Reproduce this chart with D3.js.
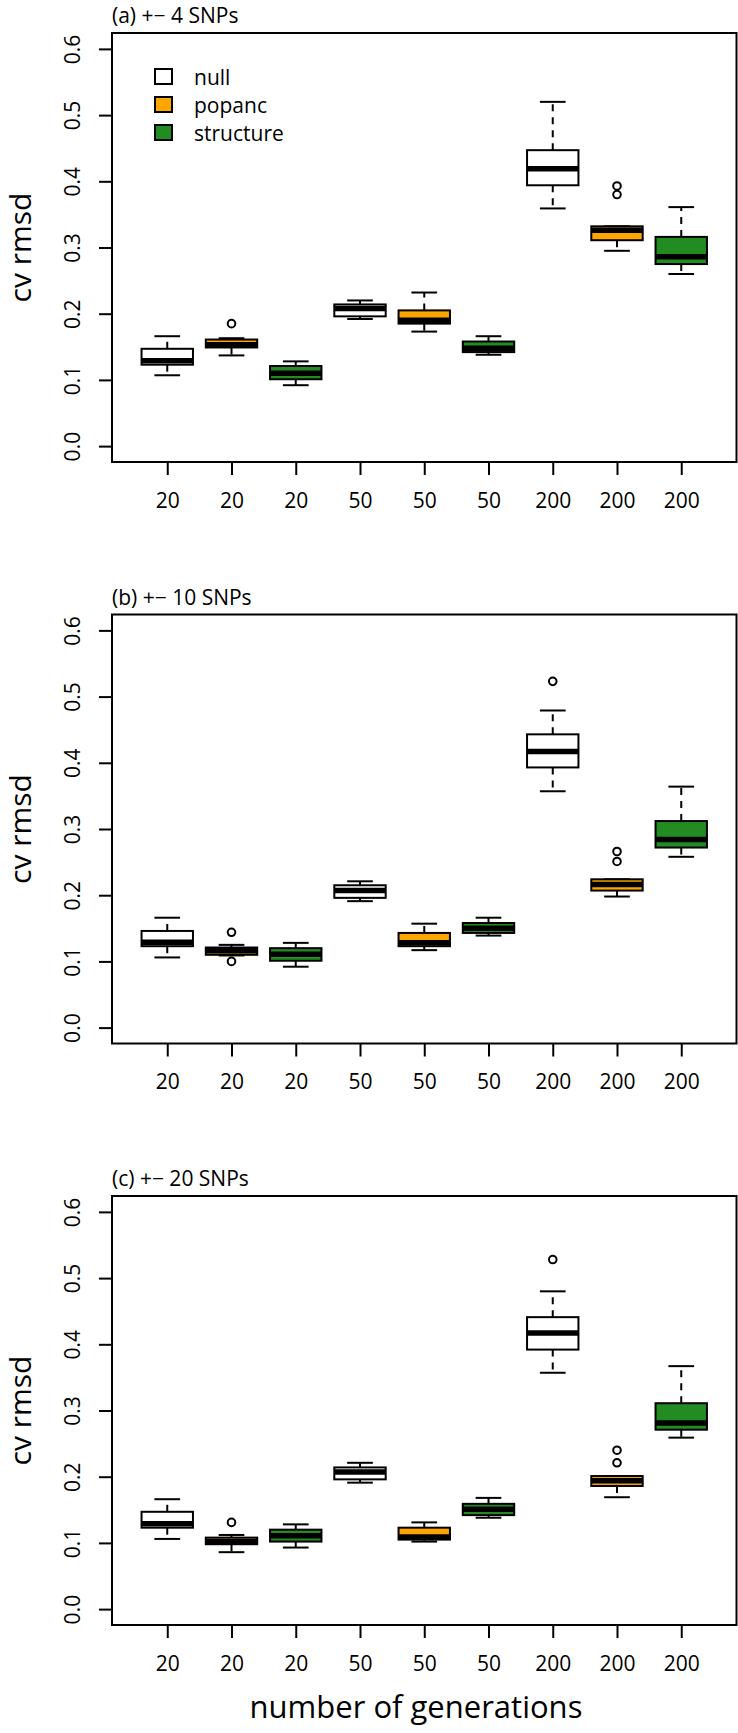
<!DOCTYPE html>
<html>
<head>
<meta charset="utf-8">
<script src="https://cdn.jsdelivr.net/npm/d3@7"></script>
<style>
  body { margin: 0; background: #fff; }
  svg text { font-family: "Open Sans", sans-serif; fill: #000; }
</style>
</head>
<body>
<div id="chart"></div>
<script>
// x categories (number of generations) and the three methods, repeated
const generations = ["20", "20", "20", "50", "50", "50", "200", "200", "200"];
const methods = ["null", "popanc", "structure", "null", "popanc", "structure", "null", "popanc", "structure"];
const legendNames = ["null", "popanc", "structure"];
const methodFill = { null: "#ffffff", popanc: "#ffa500", structure: "#228b22" };
const yTicks = [0, 0.1, 0.2, 0.3, 0.4, 0.5, 0.6];
const panelTitles = ["(a) +\u2212 4 SNPs", "(b) +\u2212 10 SNPs", "(c) +\u2212 20 SNPs"];

// (a) +- 4 SNPs
const lowA  = [0.107, 0.137, 0.092, 0.192, 0.173, 0.138, 0.359, 0.295, 0.260];
const q1A   = [0.123, 0.149, 0.101, 0.196, 0.185, 0.142, 0.394, 0.311, 0.275];
const medA  = [0.129, 0.153, 0.110, 0.208, 0.190, 0.148, 0.419, 0.326, 0.286];
const q3A   = [0.147, 0.161, 0.121, 0.214, 0.205, 0.158, 0.447, 0.332, 0.316];
const highA = [0.166, 0.163, 0.128, 0.220, 0.232, 0.166, 0.520, 0.332, 0.361];
const outA  = [[], [0.185], [], [], [], [], [], [0.380, 0.393], []];

// (b) +- 10 SNPs
const lowB  = [0.106, 0.109, 0.092, 0.191, 0.117, 0.139, 0.357, 0.198, 0.258];
const q1B   = [0.123, 0.110, 0.101, 0.196, 0.123, 0.143, 0.393, 0.207, 0.272];
const medB  = [0.129, 0.116, 0.111, 0.207, 0.128, 0.150, 0.417, 0.216, 0.284];
const q3B   = [0.146, 0.121, 0.120, 0.215, 0.143, 0.158, 0.443, 0.224, 0.312];
const highB = [0.166, 0.125, 0.128, 0.221, 0.157, 0.166, 0.479, 0.224, 0.364];
const outB  = [[], [0.100, 0.144], [], [], [], [], [0.523], [0.251, 0.266], []];

// (c) +- 20 SNPs
const lowC  = [0.106, 0.086, 0.093, 0.191, 0.102, 0.138, 0.357, 0.169, 0.259];
const q1C   = [0.123, 0.098, 0.102, 0.196, 0.105, 0.142, 0.392, 0.186, 0.271];
const medC  = [0.129, 0.102, 0.111, 0.207, 0.109, 0.151, 0.417, 0.194, 0.281];
const q3C   = [0.147, 0.108, 0.120, 0.214, 0.123, 0.159, 0.441, 0.201, 0.311];
const highC = [0.166, 0.112, 0.128, 0.221, 0.131, 0.168, 0.480, 0.201, 0.367];
const outC  = [[], [0.131], [], [], [], [], [0.528], [0.221, 0.240], []];

const panels = [
  { title: panelTitles[0], low: lowA, q1: q1A, med: medA, q3: q3A, high: highA, out: outA },
  { title: panelTitles[1], low: lowB, q1: q1B, med: medB, q3: q3B, high: highB, out: outB },
  { title: panelTitles[2], low: lowC, q1: q1C, med: medC, q3: q3C, high: highC, out: outC }
];

const W = 738, H = 1733;
const left = 112, right = 736.5, plotH = 429, firstTop = 33, step = 581.5;

const svg = d3.select("#chart").append("svg")
    .attr("width", W)
    .attr("height", H);
svg.append("rect").attr("width", W).attr("height", H).attr("fill", "#fff");

// R style: xlim c(0.5, 9.5), ylim c(0, 0.6), each padded by 4%
const x = d3.scaleLinear().domain([0.14, 9.86]).range([left, right]);
const y = d3.scaleLinear().domain([-0.024, 0.624]).range([plotH, 0]);
const unit = x(2) - x(1);
const boxW = unit * 0.8, stapleW = unit * 0.4;

panels.forEach(function (p, pi) {
  const g = svg.append("g").attr("transform", "translate(0," + (firstTop + pi * step) + ")");

  g.append("text")
      .attr("x", left)
      .attr("y", -10)
      .style("font-size", "21px")
      .text(p.title);

  // y axis
  const yAxis = g.append("g")
      .attr("transform", "translate(" + left + ",0)")
      .call(d3.axisLeft(y).tickValues(yTicks).tickFormat(d3.format(".1f")).tickSize(13));
  yAxis.select(".domain").remove();
  yAxis.selectAll("line").attr("stroke", "#000").attr("stroke-width", 2);
  yAxis.selectAll("text")
      .attr("x", null).attr("dy", null)
      .attr("transform", "translate(-32,0) rotate(-90)")
      .attr("text-anchor", "middle")
      .style("font-size", "21px")
      .style("font-family", "'Open Sans', sans-serif")
      .attr("fill", "#000");

  // x axis
  const xAxis = g.append("g")
      .attr("transform", "translate(0," + plotH + ")")
      .call(d3.axisBottom(x).tickValues(d3.range(1, 10)).tickFormat(function (d) { return generations[d - 1]; }).tickSize(13).tickPadding(18));
  xAxis.select(".domain").remove();
  xAxis.selectAll("line").attr("stroke", "#000").attr("stroke-width", 2);
  xAxis.selectAll("text")
      .style("font-size", "21px")
      .style("font-family", "'Open Sans', sans-serif")
      .attr("fill", "#000");

  g.append("text")
      .attr("transform", "translate(31," + (plotH / 2) + ") rotate(-90)")
      .attr("text-anchor", "middle")
      .style("font-size", "30px")
      .text("cv rmsd");

  // boxes
  const boxes = g.selectAll(".box")
      .data(generations.map(function (gen, i) { return i; }))
      .enter().append("g")
      .attr("class", "box");

  boxes.append("line")
      .attr("x1", function (i) { return x(i + 1); })
      .attr("x2", function (i) { return x(i + 1); })
      .attr("y1", function (i) { return y(p.q3[i]); })
      .attr("y2", function (i) { return y(p.high[i]); })
      .attr("stroke", "#000").attr("stroke-width", 2).attr("stroke-dasharray", "7,6");
  boxes.append("line")
      .attr("x1", function (i) { return x(i + 1); })
      .attr("x2", function (i) { return x(i + 1); })
      .attr("y1", function (i) { return y(p.q1[i]); })
      .attr("y2", function (i) { return y(p.low[i]); })
      .attr("stroke", "#000").attr("stroke-width", 2).attr("stroke-dasharray", "7,6");
  [p.high, p.low].forEach(function (arr) {
    boxes.append("line")
        .attr("x1", function (i) { return x(i + 1) - stapleW / 2; })
        .attr("x2", function (i) { return x(i + 1) + stapleW / 2; })
        .attr("y1", function (i) { return y(arr[i]); })
        .attr("y2", function (i) { return y(arr[i]); })
        .attr("stroke", "#000").attr("stroke-width", 2);
  });
  boxes.append("rect")
      .attr("x", function (i) { return x(i + 1) - boxW / 2; })
      .attr("width", boxW)
      .attr("y", function (i) { return y(p.q3[i]); })
      .attr("height", function (i) { return y(p.q1[i]) - y(p.q3[i]); })
      .attr("fill", function (i) { return methodFill[methods[i]]; })
      .attr("stroke", "#000").attr("stroke-width", 2);
  boxes.append("line")
      .attr("x1", function (i) { return x(i + 1) - boxW / 2; })
      .attr("x2", function (i) { return x(i + 1) + boxW / 2; })
      .attr("y1", function (i) { return y(p.med[i]); })
      .attr("y2", function (i) { return y(p.med[i]); })
      .attr("stroke", "#000").attr("stroke-width", 5.5);
  boxes.each(function (i) {
    d3.select(this).selectAll("circle")
        .data(p.out[i])
        .enter().append("circle")
        .attr("cx", x(i + 1))
        .attr("cy", function (v) { return y(v); })
        .attr("r", 3.8)
        .attr("fill", "none")
        .attr("stroke", "#000").attr("stroke-width", 2);
  });

  // plot frame
  g.append("rect")
      .attr("x", left).attr("y", 0)
      .attr("width", right - left).attr("height", plotH)
      .attr("fill", "none").attr("stroke", "#000").attr("stroke-width", 2);

  // legend only in the first panel
  if (pi === 0) {
    const lg = g.selectAll(".leg")
        .data(legendNames)
        .enter().append("g")
        .attr("class", "leg")
        .attr("transform", function (d, k) { return "translate(0," + (43.5 + k * 28) + ")"; });
    lg.append("rect")
        .attr("x", 155).attr("y", -7.5)
        .attr("width", 17).attr("height", 15)
        .attr("fill", function (d) { return methodFill[d]; })
        .attr("stroke", "#000").attr("stroke-width", 2);
    lg.append("text")
        .attr("x", 194).attr("y", 8)
        .style("font-size", "21px")
        .text(function (d) { return d; });
  }
});

svg.append("text")
    .attr("x", 416)
    .attr("y", 1718)
    .attr("text-anchor", "middle")
    .style("font-size", "31px")
    .text("number of generations");
</script>
</body>
</html>
